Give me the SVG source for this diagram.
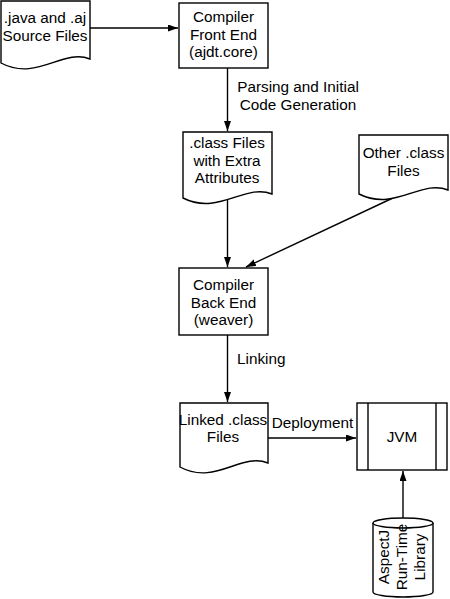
<svg xmlns="http://www.w3.org/2000/svg" width="450" height="599" viewBox="0 0 450 599">
<style>
.s{fill:#fff;stroke:#000;stroke-width:1.4}
.t{font-family:"Liberation Sans",Arial,sans-serif;font-size:15.3px;fill:#000;text-anchor:middle}
.l{font-family:"Liberation Sans",Arial,sans-serif;font-size:15.3px;fill:#000}
.c{fill:none;stroke:#000;stroke-width:1.4}
</style>
<defs>
<marker id="ah" markerUnits="userSpaceOnUse" markerWidth="11" markerHeight="8" refX="10" refY="3.5" orient="auto">
<path d="M0,0 L10,3.5 L0,7 z" fill="#000"/>
</marker>
</defs>
<rect width="450" height="599" fill="#fff"/>
<g id="connectors">
<line class="c" x1="90" y1="28" x2="178" y2="28" marker-end="url(#ah)"/>
<line class="c" x1="227.5" y1="68" x2="227.5" y2="131" marker-end="url(#ah)"/>
<line class="c" x1="227.5" y1="200" x2="227.5" y2="267" marker-end="url(#ah)"/>
<line class="c" x1="395" y1="197" x2="246" y2="267" marker-end="url(#ah)"/>
<line class="c" x1="227.5" y1="335" x2="227.5" y2="402" marker-end="url(#ah)"/>
<line class="c" x1="268" y1="438" x2="356" y2="438" marker-end="url(#ah)"/>
<line class="c" x1="403" y1="518" x2="403" y2="471" marker-end="url(#ah)"/>
<text class="t"><tspan x="298" y="92">Parsing and Initial</tspan><tspan x="298" y="110">Code Generation</tspan></text>
<text class="l" x="237" y="364">Linking</text>
<text class="t" x="312.5" y="428">Deployment</text>
</g>
<g id="source">
<path class="s" d="M1,1 H90 V59 C63,48 37,82 1,63 Z"/>
<text class="t"><tspan x="45" y="23">.java and .aj</tspan><tspan x="45" y="40.5">Source Files</tspan></text>
</g>
<g id="frontend">
<rect class="s" x="179" y="3" width="89" height="65"/>
<text class="t"><tspan x="223.5" y="22">Compiler</tspan><tspan x="223.5" y="39.5">Front End</tspan><tspan x="223.5" y="57">(ajdt.core)</tspan></text>
</g>
<g id="classfiles">
<path class="s" d="M183,132 H272 V194 C245,183 219,216 183,198 Z"/>
<text class="t"><tspan x="227" y="148">.class Files</tspan><tspan x="227" y="165.5">with Extra</tspan><tspan x="227" y="183">Attributes</tspan></text>
</g>
<g id="otherclass">
<path class="s" d="M359,135 H448 V190 C421,179 395,212 359,194 Z"/>
<text class="t"><tspan x="403.5" y="158">Other .class</tspan><tspan x="403.5" y="175.5">Files</tspan></text>
</g>
<g id="backend">
<rect class="s" x="179" y="268" width="89" height="67"/>
<text class="t"><tspan x="223.5" y="290">Compiler</tspan><tspan x="223.5" y="307.5">Back End</tspan><tspan x="223.5" y="325">(weaver)</tspan></text>
</g>
<g id="linked">
<path class="s" d="M180,403 H268 V463 C241,452 215,486 180,467 Z"/>
<text class="t"><tspan x="223" y="425">Linked .class</tspan><tspan x="223" y="442">Files</tspan></text>
</g>
<g id="jvm">
<rect class="s" x="357" y="403" width="90" height="67"/>
<line class="c" x1="368" y1="403" x2="368" y2="470"/>
<line class="c" x1="436" y1="403" x2="436" y2="470"/>
<text class="t" x="402" y="442">JVM</text>
</g>
<g id="library">
<path class="s" d="M373,523 V592 A30,5 0 0 0 433,592 V523"/>
<ellipse class="s" cx="403" cy="523" rx="30" ry="5"/>
<text class="t" transform="translate(389,557) rotate(-90)"><tspan x="0" y="0">AspectJ</tspan><tspan x="0" y="18">Run-Time</tspan><tspan x="0" y="36">Library</tspan></text>
</g>
</svg>
